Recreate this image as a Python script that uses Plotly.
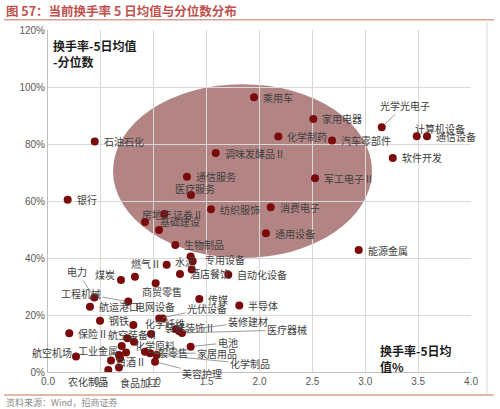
import plotly.graph_objects as go

# ---------------- data ----------------
names = ["石油石化", "银行", "乘用车", "家用电器", "光学光电子", "计算机设备", "通信设备", "化学制药",
         "汽车零部件", "软件开发", "调味发酵品Ⅱ", "通信服务", "医疗服务", "军工电子Ⅱ", "消费电子",
         "通用设备", "能源金属", "纺织服饰", "证券Ⅱ", "房地产", "基础建设", "生物制品", "燃气Ⅱ",
         "专用设备", "水泥", "酒店餐饮", "", "自动化设备", "煤炭", "", "商贸零售", "电力", "工程机械",
         "航运港口", "电网设备", "光伏设备", "传媒", "半导体", "钢铁", "化学纤维", "保险Ⅱ",
         "航空装备Ⅱ", "装修装饰Ⅱ", "装修建材", "医疗器械", "电池", "家居用品", "化学制品", "美容护理",
         "化学原料", "", "工业金属", "白酒Ⅱ", "", "", "", "食品加工", "农化制品", "一般零售", "航空机场"]
turnover = [0.442, 0.186, 1.948, 2.509, 3.156, 3.487, 3.584, 2.178,
            2.686, 3.260, 1.586, 1.314, 1.352, 2.525, 2.106,
            2.061, 2.938, 1.541, 1.100, 0.917, 1.050, 1.204, 1.122,
            1.349, 1.368, 1.359, 1.248, 1.705, 0.690, 0.822, 1.018, 0.438, 0.759,
            0.397, 1.085, 1.052, 1.431, 1.809, 0.492, 0.807, 0.201,
            0.974, 1.210, 1.239, 1.267, 1.349, 0.965, 1.028, 1.012,
            0.750, 0.813, 0.697, 0.738, 0.671, 0.596, 0.681, 0.671, 0.570, 0.917, 0.265]
percentile = [80.9, 60.4, 96.4, 88.8, 85.9, 82.7, 82.7, 82.6,
              81.2, 75.1, 76.8, 68.5, 62.1, 68.0, 57.8,
              48.7, 42.8, 57.1, 55.4, 52.6, 49.8, 44.6, 37.6,
              40.5, 38.9, 36.0, 34.4, 34.1, 32.3, 33.4, 31.1, 26.1, 24.7,
              22.9, 18.8, 18.8, 25.6, 23.3, 18.0, 16.5, 13.6,
              13.3, 15.1, 14.4, 13.7, 8.9, 6.6, 6.0, 3.6,
              11.8, 10.6, 9.1, 6.8, 6.0, 4.0, 4.8, 1.6, 0.7, 7.1, 5.4]
x_ticks = [0.0, 0.5, 1.0, 1.5, 2.0, 2.5, 3.0, 3.5, 4.0]
y_ticks = [0, 20, 40, 60, 80, 100, 120]

# ---------------- label placement (pixel offsets) ----------------
# 'r' = right of dot, 'l' = left of dot, ('c', dx, dy) = centred offset, ('a', ax, ay) = with leader line
place = {
    "光学光电子": ("a", 23, -22), "计算机设备": ("c", 23, -8), "医疗服务": ("c", 4, -7),
    "房地产": ("c", 12, -8), "基础建设": ("c", 21, -9), "燃气Ⅱ": ("c", -21, -1),
    "专用设备": ("c", 34, 3), "水泥": ("c", -8, 0), "酒店餐饮": ("c", 18, 4),
    "煤炭": ("c", -16, -5), "商贸零售": ("c", 6, 8), "电力": ("a", -17, -26),
    "工程机械": ("a", -47, -8), "电网设备": ("c", -8, -12), "光伏设备": ("a", 48, -10),
    "化学纤维": ("c", 32, -1), "航空装备Ⅱ": ("c", -18, 0), "装修装饰Ⅱ": ("c", 14, -1),
    "装修建材": ("a", 69, -9), "医疗器械": ("a", 105, -3), "电池": ("a", 37, -4),
    "家居用品": ("a", 67, 0), "化学制品": ("a", 93, 9), "美容护理": ("a", 47, 12),
    "化学原料": ("c", 28, 7), "工业金属": ("c", -24, 4), "白酒Ⅱ": ("c", 5, 9),
    "食品加工": ("c", 21, 15), "农化制品": ("c", -20, 11), "一般零售": ("c", 23, 1),
    "航空机场": ("c", -24, -4),
}

LBL_FONT = dict(family="Noto Sans CJK SC", size=10, color="#404040")
DOT = "#7B0A0A"

fig = go.Figure()

fig.add_trace(go.Scatter(
    x=turnover, y=[p / 100 for p in percentile], mode="markers",
    marker=dict(color=DOT, size=8, line=dict(width=0)),
    hoverinfo="skip", showlegend=False,
))

annotations = []
for n, xv, yv in zip(names, turnover, percentile):
    if not n:
        continue
    p = place.get(n, ("r",))
    base = dict(x=xv, y=yv / 100, xref="x", yref="y", text=n, font=LBL_FONT)
    if p[0] == "r":
        annotations.append(dict(base, showarrow=False, xanchor="left", xshift=7))
    elif p[0] == "l":
        annotations.append(dict(base, showarrow=False, xanchor="right", xshift=-7))
    elif p[0] == "c":
        annotations.append(dict(base, showarrow=False, xanchor="center", xshift=p[1], yshift=-p[2]))
    else:
        annotations.append(dict(base, showarrow=True, ax=p[1], ay=p[2], arrowhead=0,
                                arrowwidth=0.8, arrowcolor="#808080", standoff=4))

# axis titles inside plot
annotations.append(dict(xref="paper", yref="paper", x=0.007, y=0.985, xanchor="left", yanchor="top",
                        text="<b>换手率-5日均值<br>-分位数</b>", showarrow=False, align="left",
                        font=dict(family="Noto Sans CJK SC", size=12, color="#1a1a1a")))
annotations.append(dict(xref="paper", yref="paper", x=0.78, y=0.095, xanchor="left", yanchor="top",
                        text="<b>换手率-5日均<br>值%</b>", showarrow=False, align="left",
                        font=dict(family="Noto Sans CJK SC", size=12, color="#1a1a1a")))
# title and source
annotations.append(dict(xref="paper", yref="paper", x=-0.103, y=1.058, xanchor="left", yanchor="middle",
                        text="<b>图 57：当前换手率 5 日均值与分位数分布</b>", showarrow=False,
                        font=dict(family="Noto Sans CJK SC", size=12.5, color="#C0504D")))
annotations.append(dict(xref="paper", yref="paper", x=-0.103, y=-0.09, xanchor="left", yanchor="middle",
                        text="资料来源：Wind，招商证券", showarrow=False,
                        font=dict(family="Noto Sans CJK SC", size=9, color="#8c8c8c")))

shapes = [
    dict(type="circle", xref="x", yref="y", x0=0.615, x1=3.064, y0=0.40, y1=1.01,
         fillcolor="rgba(128,50,50,0.6)", line=dict(width=0), layer="below"),
    dict(type="line", xref="paper", yref="paper", x0=-0.104, x1=1.054, y0=1.030, y1=1.030,
         line=dict(color="#D9A08E", width=1.5)),
    dict(type="line", xref="paper", yref="paper", x0=-0.104, x1=1.054, y0=-0.067, y1=-0.067,
         line=dict(color="#D9A08E", width=1.5)),
    dict(type="line", xref="paper", yref="paper", x0=1.038, x1=1.038, y0=-0.062, y1=1.022,
         line=dict(color="#D9D9D9", width=1)),
]

fig.update_layout(
    width=500, height=409,
    margin=dict(l=48, r=29, t=30, b=37),
    paper_bgcolor="white", plot_bgcolor="white",
    annotations=annotations, shapes=shapes,
    xaxis=dict(range=[0, 4], tickvals=x_ticks, ticktext=[f"{v:.1f}" for v in x_ticks],
               showgrid=True, gridcolor="#D9D9D9", gridwidth=1, zeroline=False,
               showline=True, linecolor="#BFBFBF", ticks="", ticklen=0,
               tickfont=dict(family="Liberation Sans", size=10, color="#595959")),
    yaxis=dict(range=[0, 1.2], tickvals=[v / 100 for v in y_ticks],
               ticktext=[f"{v}%" for v in y_ticks],
               showgrid=True, gridcolor="#D9D9D9", gridwidth=1, zeroline=False,
               showline=True, linecolor="#BFBFBF", ticks="",
               tickfont=dict(family="Liberation Sans", size=10, color="#595959")),
)

fig.write_html("out.html", config={"displayModeBar": False},
               post_script="document.body.style.margin='0';")
